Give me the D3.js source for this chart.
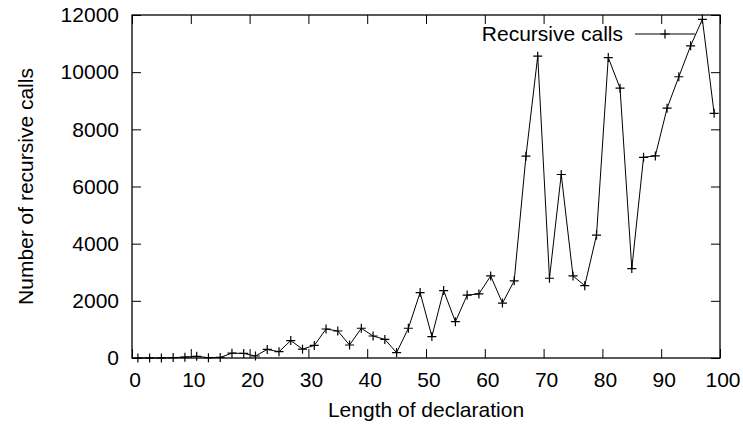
<!DOCTYPE html>
<html>

<head>
    <meta charset="utf-8">
    <script src="https://d3js.org/d3.v7.min.js"></script>
    <style>
        body { margin: 0; background: white; }
        text { font-family: "Liberation Sans", Arial, sans-serif; }
    </style>
</head>

<body>
</body>

<script>
    // length of declaration (x) and number of recursive calls (y)
    let lengths = [1, 3, 5, 7, 9, 11, 13, 15, 17, 19,
                   21, 23, 25, 27, 29, 31, 33, 35, 37, 39,
                   41, 43, 45, 47, 49, 51, 53, 55, 57, 59,
                   61, 63, 65, 67, 69, 71, 73, 75, 77, 79,
                   81, 83, 85, 87, 89, 91, 93, 95, 97, 99];
    let calls = [0, 0, 0, 15, 30, 60, 10, 20, 170, 160,
                 70, 300, 220, 610, 310, 440, 1015, 945, 455, 1040,
                 770, 650, 190, 1040, 2290, 750, 2360, 1270, 2200, 2240,
                 2870, 1920, 2700, 7060, 10560, 2790, 6420, 2870, 2530, 4300,
                 10510, 9440, 3130, 7020, 7070, 8740, 9840, 10920, 11850, 8560];
    let xTicks = [0, 10, 20, 30, 40, 50, 60, 70, 80, 90, 100];
    let yTicks = [0, 2000, 4000, 6000, 8000, 10000, 12000];
    let seriesName = "Recursive calls";

    let width = 743, height = 425;
    let margin = {left: 132, right: 23, top: 15, bottom: 67};
    let fontSize = "21px";

    let svg = d3.select("body")
        .append("svg")
            .attr("width", width)
            .attr("height", height);

    svg.append("rect")
        .attr("width", width)
        .attr("height", height)
        .attr("fill", "white");

    let x = d3.scaleLinear()
        .domain([0, 100])
        .range([margin.left, width - margin.right]);

    let y = d3.scaleLinear()
        .domain([0, 12000])
        .range([height - margin.bottom, margin.top]);

    let data = lengths.map((d, i) => ({len: d, value: calls[i]}));

    // axes with inward ticks, mirrored on top and right
    let gx = svg.append("g")
        .attr("transform", `translate(0,${y(0)})`)
        .call(d3.axisBottom(x).tickValues(xTicks).tickSizeInner(-9).tickSizeOuter(0).tickPadding(13.8));
    gx.selectAll("text").attr("dx", 2.5);
    svg.append("g")
        .attr("transform", `translate(0,${y(12000)})`)
        .call(d3.axisTop(x).tickValues(xTicks).tickSizeInner(-9).tickSizeOuter(0).tickFormat(""));
    let gy = svg.append("g")
        .attr("transform", `translate(${x(0)},0)`)
        .call(d3.axisLeft(y).tickValues(yTicks).tickSizeInner(-9).tickSizeOuter(0)
            .tickPadding(13).tickFormat(d3.format("d")));
    svg.append("g")
        .attr("transform", `translate(${x(100)},0)`)
        .call(d3.axisRight(y).tickValues(yTicks).tickSizeInner(-9).tickSizeOuter(0).tickFormat(""));

    svg.selectAll(".domain").remove();
    svg.selectAll(".tick line").attr("stroke", "black");
    svg.selectAll(".tick text")
        .attr("fill", "black")
        .style("font-size", fontSize);

    svg.append("rect")
        .attr("x", x(0))
        .attr("y", y(12000))
        .attr("width", x(100) - x(0))
        .attr("height", y(0) - y(12000))
        .attr("fill", "none")
        .attr("stroke", "black")
        .attr("stroke-width", 1.3);

    // axis titles
    svg.append("text")
        .attr("x", (x(0) + x(100)) / 2)
        .attr("y", 417)
        .attr("text-anchor", "middle")
        .style("font-size", fontSize)
        .text("Length of declaration");

    svg.append("text")
        .attr("transform", `translate(33,${(y(0) + y(12000)) / 2}) rotate(-90)`)
        .attr("text-anchor", "middle")
        .style("font-size", fontSize)
        .text("Number of recursive calls");

    // series line
    let line = d3.line()
        .x(d => x(d.len))
        .y(d => y(d.value));

    svg.append("path")
        .datum(data)
        .attr("fill", "none")
        .attr("stroke", "black")
        .attr("stroke-width", 1)
        .attr("d", line);

    let s = 4.5;
    let plus = d => `M${-s},0H${s}M0,${-s}V${s}`;

    svg.append("g")
        .selectAll("path")
        .data(data)
        .join("path")
            .attr("transform", d => `translate(${x(d.len)},${y(d.value)})`)
            .attr("d", plus)
            .attr("stroke", "black")
            .attr("stroke-width", 1.2);

    // legend
    let legend = svg.append("g").attr("transform", "translate(0,34)");
    legend.append("text")
        .attr("x", 623)
        .attr("y", 7)
        .attr("text-anchor", "end")
        .style("font-size", fontSize)
        .text(seriesName);
    legend.append("line")
        .attr("x1", 635).attr("x2", 695)
        .attr("stroke", "black");
    legend.append("path")
        .attr("transform", "translate(665,0)")
        .attr("d", plus)
        .attr("stroke", "black")
        .attr("stroke-width", 1.2);

</script>

</html>
